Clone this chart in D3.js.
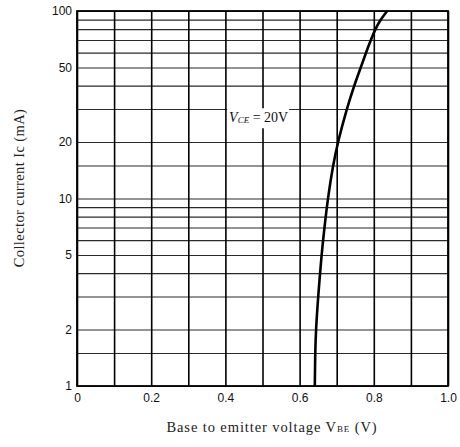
<!DOCTYPE html>
<html>
<head>
<meta charset="utf-8">
<script src="https://cdn.jsdelivr.net/npm/d3@7"></script>
<style>
  body { margin: 0; background: #fff; }
  svg { display: block; }
</style>
</head>
<body>
<svg id="chart" width="460" height="447"></svg>
<script>
// values
const icValues = [1, 1.5, 2, 3, 5, 7, 10, 15, 20, 30, 40, 50, 60, 70, 80, 90, 100];
const vbeValues = [0.641, 0.642, 0.644, 0.650, 0.659, 0.667, 0.676, 0.690, 0.703, 0.727, 0.747, 0.765, 0.779, 0.792, 0.804, 0.818, 0.836];
const xGridValues = [0, 0.1, 0.2, 0.3, 0.4, 0.5, 0.6, 0.7, 0.8, 0.9, 1.0];
const yGridValues = [1, 1.5, 2, 3, 4, 5, 6, 7, 8, 9, 10, 15, 20, 30, 40, 50, 60, 70, 80, 90, 100];
const xTickLabels = [0, 0.2, 0.4, 0.6, 0.8, 1.0];
const yTickLabels = [1, 2, 5, 10, 20, 50, 100];

const plotL = 77, plotR = 448, plotT = 11, plotB = 386;

const svg = d3.select("#chart");

const x = d3.scaleLinear().domain([0, 1]).range([plotL, plotR]);
const y = d3.scaleLog().domain([1, 100]).range([plotB, plotT]);

// horizontal grid (thin, scanned look)
svg.append("g")
  .attr("class", "hgrid")
  .attr("transform", "translate(" + plotL + ",0)")
  .call(d3.axisLeft(y).tickValues(yGridValues).tickSize(-(plotR - plotL)).tickFormat(""))
  .call(g => g.select(".domain").remove())
  .call(g => g.selectAll("line").attr("stroke", "#2a2a2a").attr("stroke-width", 1.1));

// vertical grid (heavier)
svg.append("g")
  .attr("class", "vgrid")
  .attr("transform", "translate(0," + plotB + ")")
  .call(d3.axisBottom(x).tickValues(xGridValues).tickSize(-(plotB - plotT)).tickFormat(""))
  .call(g => g.select(".domain").remove())
  .call(g => g.selectAll("line").attr("stroke", "#000").attr("stroke-width", 1.6));

// frame
svg.append("rect")
  .attr("x", plotL).attr("y", plotT)
  .attr("width", plotR - plotL).attr("height", plotB - plotT)
  .attr("fill", "none").attr("stroke", "#000").attr("stroke-width", 1.8);

// tick labels
svg.append("g")
  .attr("transform", "translate(0," + plotB + ")")
  .call(d3.axisBottom(x).tickValues(xTickLabels).tickSize(0).tickPadding(7)
    .tickFormat(d => d === 0 ? "0" : d.toFixed(1)))
  .call(g => g.select(".domain").remove())
  .call(g => g.selectAll("text")
    .attr("font-family", "'Liberation Sans Narrow', 'Liberation Sans', sans-serif")
    .attr("font-size", 12).attr("fill", "#111"));

svg.append("g")
  .attr("transform", "translate(" + plotL + ",0)")
  .call(d3.axisLeft(y).tickValues(yTickLabels).tickSize(0).tickPadding(5)
    .tickFormat(d3.format("d")))
  .call(g => g.select(".domain").remove())
  .call(g => g.selectAll("text")
    .attr("font-family", "'Liberation Sans Narrow', 'Liberation Sans', sans-serif")
    .attr("font-size", 12).attr("fill", "#111"));

// curve
const pts = icValues.map((v, i) => ({ ic: v, vbe: vbeValues[i] }));
svg.append("path")
  .datum(pts)
  .attr("fill", "none")
  .attr("stroke", "#000")
  .attr("stroke-width", 2.6)
  .attr("d", d3.line().x(d => x(d.vbe)).y(d => y(d.ic)).curve(d3.curveBasis));

// annotation
const ann = svg.append("g").attr("transform", "translate(" + x(0.41) + "," + y(25.5) + ")");
ann.append("rect").attr("x", -2).attr("y", -14).attr("width", 62).attr("height", 20).attr("fill", "#fff");
const annText = ann.append("text")
  .attr("font-family", "'Liberation Serif', serif")
  .attr("font-size", 14).attr("fill", "#111");
annText.append("tspan").attr("font-style", "italic").text("V");
annText.append("tspan").attr("font-style", "italic").attr("font-size", 9).attr("dy", 1).text("CE");
annText.append("tspan").attr("dy", -1).text(" = 20V");

// axis titles
const yTitle = svg.append("text")
  .attr("transform", "translate(24,188) rotate(-90)")
  .attr("text-anchor", "middle")
  .attr("font-family", "'Liberation Serif', serif")
  .attr("font-size", 14.5).attr("letter-spacing", 0.4).attr("fill", "#222");
yTitle.append("tspan").text("Collector current  Ic (mA)");

const xTitle = svg.append("text")
  .attr("x", 272).attr("y", 432)
  .attr("text-anchor", "middle")
  .attr("font-family", "'Liberation Serif', serif")
  .attr("font-size", 14.5).attr("letter-spacing", 0.9).attr("fill", "#222");
xTitle.append("tspan").text("Base to emitter voltage  V");
xTitle.append("tspan").attr("font-size", 9).text("BE");
xTitle.append("tspan").text(" (V)");
</script>
</body>
</html>
